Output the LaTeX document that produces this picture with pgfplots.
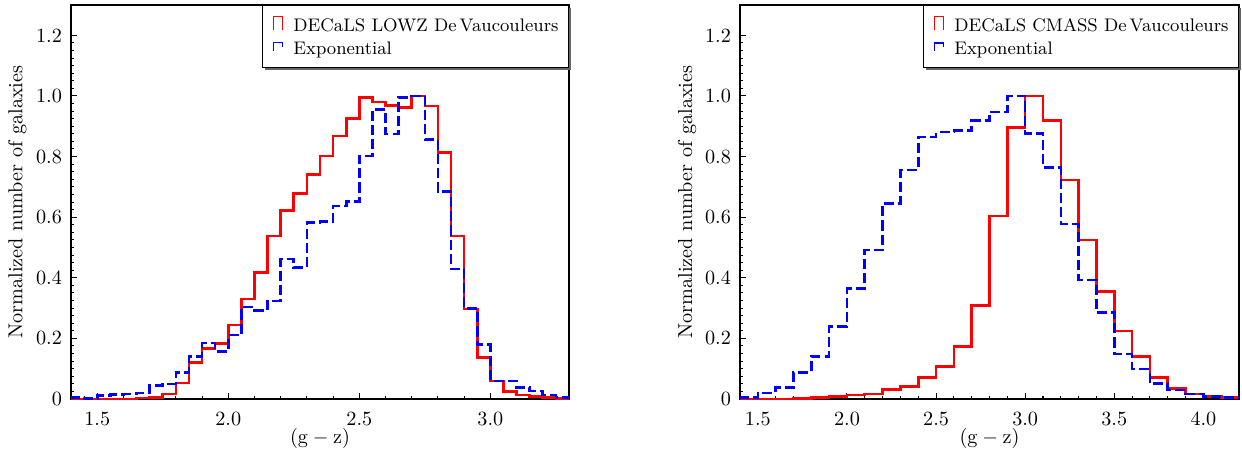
\documentclass[border=0pt]{standalone}
\usepackage{pgfplots}
\pgfplotsset{compat=1.18}
\usepackage{pgfplotstable}

\pgfplotstableread{
x y
1.40 0
1.40 0
1.45 0
1.50 0
1.55 0
1.60 0
1.65 0.004
1.70 0.005
1.75 0.016
1.80 0.053
1.85 0.121
1.90 0.167
1.95 0.184
2.00 0.244
2.05 0.330
2.10 0.418
2.15 0.538
2.20 0.623
2.25 0.678
2.30 0.740
2.35 0.802
2.40 0.868
2.45 0.925
2.50 0.995
2.55 0.980
2.60 0.969
2.65 0.962
2.70 1.000
2.75 0.967
2.80 0.813
2.85 0.538
2.90 0.297
2.95 0.137
3.00 0.060
3.05 0.024
3.10 0.013
3.15 0.009
3.20 0.005
3.25 0.002
3.30 0.002
3.30 0
}\lowzdev

\pgfplotstableread{
x y
1.40 0
1.40 0.005
1.45 0.002
1.50 0.011
1.55 0.014
1.60 0.016
1.65 0.020
1.70 0.044
1.75 0.049
1.80 0.088
1.85 0.141
1.90 0.185
1.95 0.157
2.00 0.211
2.05 0.304
2.10 0.293
2.15 0.324
2.20 0.462
2.25 0.434
2.30 0.582
2.35 0.585
2.40 0.637
2.45 0.651
2.50 0.802
2.55 0.956
2.60 0.874
2.65 0.995
2.70 1.000
2.75 0.857
2.80 0.684
2.85 0.429
2.90 0.299
2.95 0.179
3.00 0.060
3.05 0.060
3.10 0.038
3.15 0.027
3.20 0.013
3.25 0.005
3.30 0.005
3.30 0
}\lowzexp

\pgfplotstableread{
x y
1.4 0
1.4 0
1.5 0
1.6 0
1.7 0.002
1.8 0.005
1.9 0.009
2.0 0.013
2.1 0.016
2.2 0.031
2.3 0.042
2.4 0.071
2.5 0.108
2.6 0.174
2.7 0.308
2.8 0.604
2.9 0.896
3.0 1.000
3.1 0.918
3.2 0.723
3.3 0.525
3.4 0.355
3.5 0.225
3.6 0.140
3.7 0.071
3.8 0.035
3.9 0.016
4.0 0.009
4.1 0.005
4.2 0.005
4.2 0
}\cmassdev

\pgfplotstableread{
x y
1.4 0
1.4 0.005
1.5 0.020
1.6 0.038
1.7 0.088
1.8 0.141
1.9 0.240
2.0 0.365
2.1 0.492
2.2 0.646
2.3 0.756
2.4 0.865
2.5 0.881
2.6 0.885
2.7 0.918
2.8 0.947
2.9 1.000
3.0 0.877
3.1 0.764
3.2 0.577
3.3 0.393
3.4 0.286
3.5 0.148
3.6 0.099
3.7 0.052
3.8 0.030
3.9 0.016
4.0 0.009
4.1 0.005
4.2 0.005
4.2 0
}\cmassexp

\pgfplotsset{
  histaxis/.style={
    anchor=south west,
    scale only axis,
    height=195.1pt,
    ymin=0, ymax=1.3,
    ytick={0,0.2,0.4,0.6,0.8,1.0,1.2},
    yticklabels={0,0.2,0.4,0.6,0.8,1.0,1.2},
    minor y tick num=7,
    minor x tick num=4,
    tick pos=left,
    tick align=inside,
    major tick length=3pt,
    minor tick length=1.6pt,
    every tick/.style={black, line width=0.5pt},
    axis line style={line width=0.6pt},
    xticklabel style={/pgf/number format/fixed, /pgf/number format/fixed zerofill, /pgf/number format/precision=1, yshift=-3pt},
    yticklabel style={xshift=-1pt},
    ylabel={Normalized number of galaxies},
    xlabel={$(\mathrm{g}-\mathrm{z})$},
    xlabel style={at={(axis description cs:0.5,-0.099)}, anchor=center},
    legend cell align=left,
    legend style={at={(1,1)}, anchor=north east, draw=black, fill=white,
      line width=0.5pt,
      font=\fontsize{9}{11}\selectfont,
      inner xsep=5pt, inner ysep=5pt, row sep=3.6pt, column sep=5pt,
      nodes={inner sep=0pt}},
  },
  redhist/.style={const plot mark left, color=red, line width=1.3pt, no marks,
    legend image code/.code={\draw[red, line width=0.7pt, solid] (0pt,-1.7pt) -- (0pt,5.2pt) -- (4.6pt,5.2pt) -- (4.6pt,-1.7pt);}},
  bluehist/.style={const plot mark left, color=blue, line width=1.3pt, no marks,
    dash pattern=on 5pt off 2pt,
    legend image code/.code={\draw[blue, line width=0.7pt, solid] (0pt,-0.4pt) -- (0pt,3.5pt) -- (4.6pt,3.5pt) -- (4.6pt,1.6pt);}},
}

\begin{document}
\begin{tikzpicture}
\path[use as bounding box] (0pt,0pt) rectangle (615pt,225.8pt);
\begin{axis}[histaxis, at={(35.16pt,28.22pt)}, width=246.6pt,
    xmin=1.4, xmax=3.3, xtick={1.5,2.0,2.5,3.0},
    legend style={name=legL},
    ylabel style={at={(axis description cs:-0.108,0.5)}, anchor=center}]
\addplot[redhist] table[x=x, y=y] {\lowzdev};
\addlegendentry{DECaLS LOWZ De\,Vaucouleurs}
\addplot[bluehist] table[x=x, y=y] {\lowzexp};
\addlegendentry{Exponential}
\end{axis}
\begin{axis}[histaxis, at={(366.43pt,28.22pt)}, width=247.1pt,
    xmin=1.4, xmax=4.2, xtick={1.5,2.0,2.5,3.0,3.5,4.0},
    legend style={name=legR},
    ylabel style={at={(axis description cs:-0.106,0.5)}, anchor=center}]
\addplot[redhist] table[x=x, y=y] {\cmassdev};
\addlegendentry{DECaLS CMASS De\,Vaucouleurs}
\addplot[bluehist] table[x=x, y=y] {\cmassexp};
\addlegendentry{Exponential}
\end{axis}
\foreach \L in {legL,legR}{
  \draw[black!60, line width=0.9pt] ([xshift=1.5pt,yshift=-0.5pt]\L.south west) -- ([xshift=0.5pt,yshift=-0.5pt]\L.south east) -- ([xshift=0.5pt,yshift=-1.5pt]\L.north east);
}
\end{tikzpicture}
\end{document}
